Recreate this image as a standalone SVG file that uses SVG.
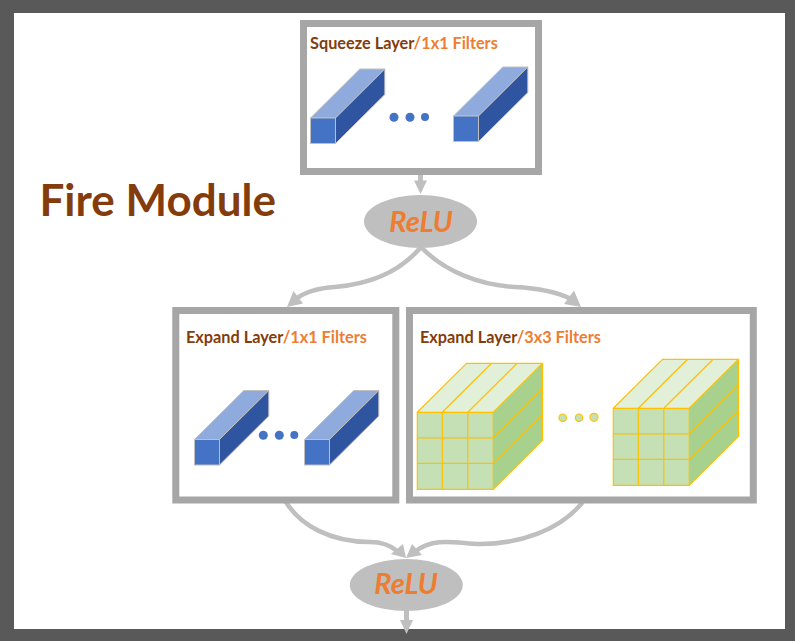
<svg xmlns="http://www.w3.org/2000/svg" width="795" height="641" viewBox="0 0 795 641">
<style>
text{font-family:Lato,"Liberation Sans",sans-serif;font-weight:700}
.lbl{font-size:16.300px;fill:#843c0c}
.lbl tspan{fill:#ed7d31}
.rl{font-size:29px;font-style:italic;fill:#ed7d31;text-anchor:middle}
.fr{fill:#fff;stroke:#a6a6a6;stroke-width:7}
.el{fill:#bfbfbf}
.ln{fill:none;stroke:#bfbfbf;stroke-width:4.500;stroke-linecap:round}
.st{fill:none;stroke:#bfbfbf;stroke-width:5}
.ah{fill:#bfbfbf}
.bf{fill:#4472c4;stroke:#bfbfbf;stroke-width:1}
.bt{fill:#8faadc;stroke:#bfbfbf;stroke-width:1}
.bs{fill:#2f55a0;stroke:#bfbfbf;stroke-width:1}
.bd{fill:#4472c4}
.gf{fill:#c5e0b4}
.gt{fill:#e2f0d9}
.gs{fill:#a9d18e}
.gl{fill:none;stroke:#ffc000;stroke-width:1.200}
.gd{fill:#c5e0b4;stroke:#ffc000;stroke-width:1.200}
</style>
<defs>
<g id="bar">
<path class="bt" d="M0 0L49.300-49H74.300L25 0Z"/>
<path class="bs" d="M25 0L74.300-49V-23.500L25 25.500Z"/>
<rect class="bf" width="25" height="25.500"/>
</g>
<g id="cube">
<path class="gt" d="M0 0L49.300-49H125.300L76 0Z"/>
<path class="gs" d="M76 0L125.300-49V28L76 77Z"/>
<rect class="gf" width="76" height="77"/>
<path class="gl" d="M0 0H76V77H0ZM25 0V77M50.500 0V77M0 25.500H76M0 51H76M0 0L49.300-49H125.300V28L76 77M76 0L125.300-49M25 0L74.300-49M50.500 0L99.800-49M76 25.500L125.300-23.500M76 51L125.300 2"/>
</g>
</defs>
<rect width="795" height="641" fill="#595959"/>
<rect x="14" y="13" width="771" height="616" fill="#fff"/>
<text x="39.500" y="215.500" font-size="44" fill="#843c0c">Fire Module</text>

<g id="connectors">
<path class="st" d="M420.500 175V184"/>
<path class="ah" d="M414 180.500H427L420.500 194Z"/>
<path class="ln" d="M421 247C400 272 370 284 335 287C320 288 306 291 296 299"/>
<path class="ah" d="M287 307L293.500 291L303 303.500Z"/>
<path class="ln" d="M421 247C445 272 480 285 515 287C535 288 555 291 571 299"/>
<path class="ah" d="M581 307L564 304L574 290.500Z"/>
<path class="ln" d="M286 502C300 525 330 542 370 542C382 542 390 545 397 551"/>
<path class="ah" d="M406 558L391 554L403 544Z"/>
<path class="ln" d="M582 503C560 530 520 544 480 544C460 544 435 536 416 551"/>
<path class="ah" d="M406 558L412 544L422 555Z"/>
<path class="st" d="M406.500 610V622"/>
<path class="ah" d="M400 620H413L406.500 634Z"/>
</g>

<g id="squeeze-layer">
<rect class="fr" x="303.500" y="23.500" width="235" height="148"/>
<text class="lbl" x="310" y="48.700">Squeeze Layer<tspan>/1x1 Filters</tspan></text>
<use href="#bar" x="310.500" y="118"/>
<use href="#bar" x="453.500" y="116"/>
<circle class="bd" cx="394" cy="117.300" r="4.500"/>
<circle class="bd" cx="410" cy="117.300" r="4.500"/>
<circle class="bd" cx="425" cy="117" r="4"/>
</g>
<g id="relu-top">
<ellipse class="el" cx="420.500" cy="221.500" rx="56.500" ry="26.500"/>
<text class="rl" x="421" y="232">ReLU</text>
</g>
<g id="expand-1x1">
<rect class="fr" x="175.800" y="310.500" width="220" height="189.500"/>
<text class="lbl" x="186" y="342.700">Expand Layer<tspan>/1x1 Filters</tspan></text>
<use href="#bar" x="194.500" y="439.500"/>
<use href="#bar" x="304.500" y="439.500"/>
<circle class="bd" cx="263.300" cy="435.300" r="4.500"/>
<circle class="bd" cx="279.300" cy="435.300" r="4.500"/>
<circle class="bd" cx="294.300" cy="435" r="4"/>
</g>
<g id="expand-3x3">
<rect class="fr" x="409.500" y="310.500" width="343.800" height="189.500"/>
<text class="lbl" x="420" y="342.700">Expand Layer<tspan>/3x3 Filters</tspan></text>
<use href="#cube" x="417.300" y="412.300"/>
<use href="#cube" x="613.300" y="408.300"/>
<circle class="gd" cx="562.700" cy="417.700" r="3.700"/>
<circle class="gd" cx="579" cy="417.700" r="3.700"/>
<circle class="gd" cx="594" cy="417.300" r="4"/>
</g>
<g id="relu-bottom">
<ellipse class="el" cx="406.300" cy="585" rx="56.500" ry="26"/>
<text class="rl" x="406" y="594">ReLU</text>
</g>
</svg>
